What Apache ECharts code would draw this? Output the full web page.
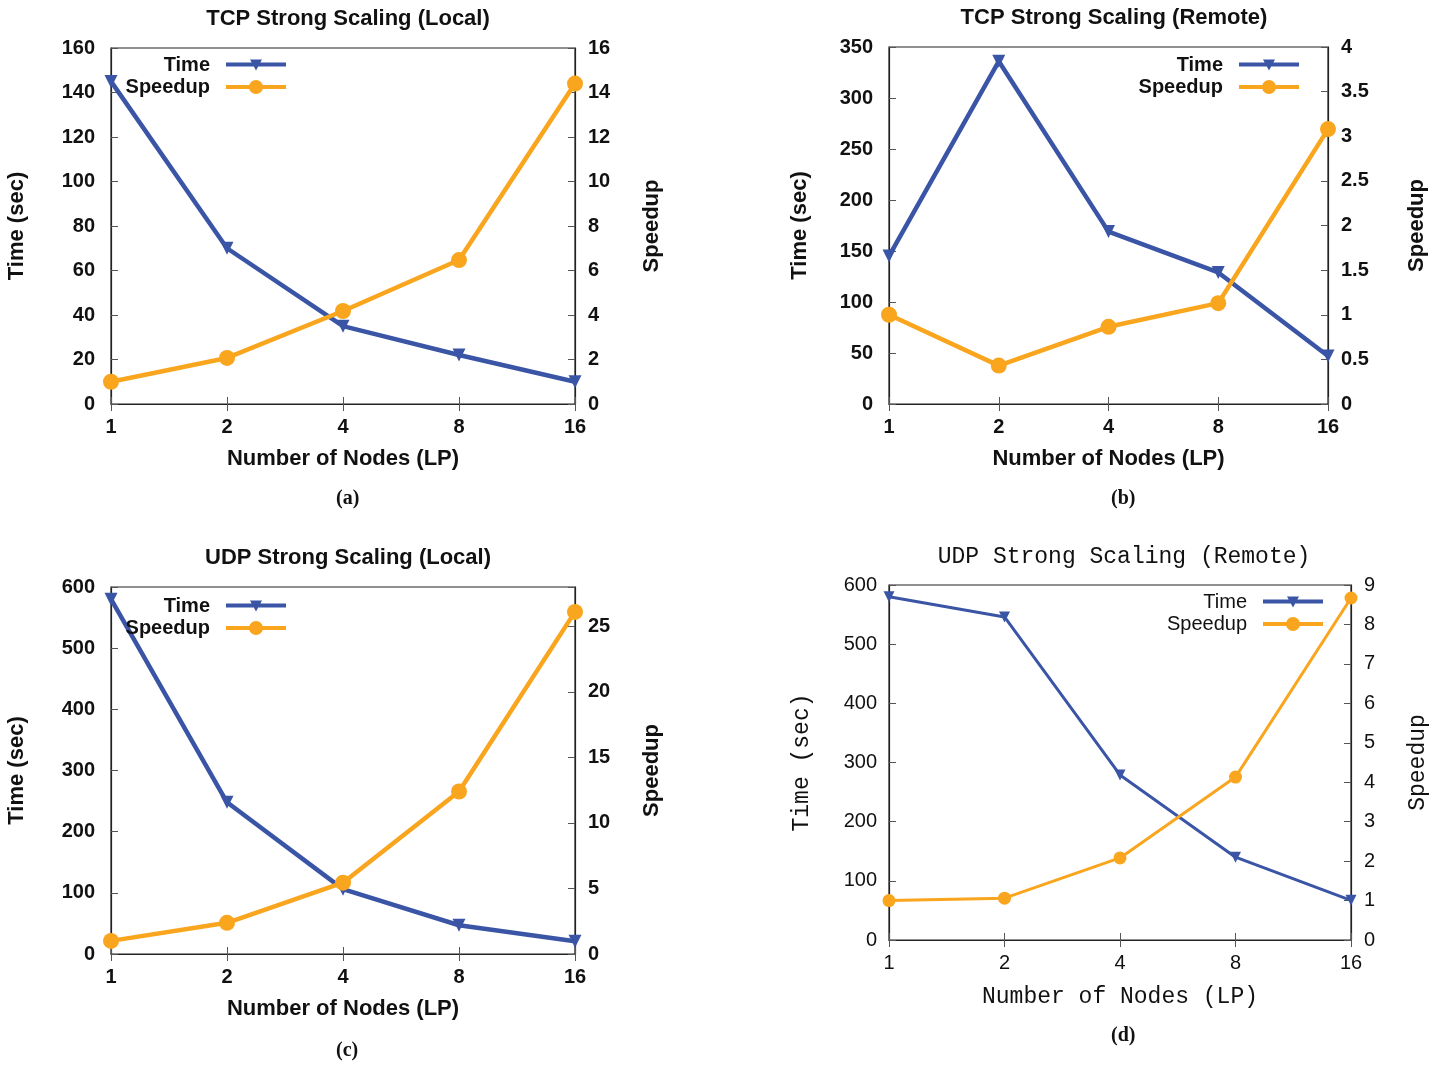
<!DOCTYPE html>
<html>
<head>
<meta charset="utf-8">
<script src="https://cdn.jsdelivr.net/npm/echarts@6/dist/echarts.min.js"></script>
<style>
  html, body { margin: 0; padding: 0; background: #fff; }
  #main { width: 1448px; height: 1066px; }
</style>
</head>
<body>
<div id="main"></div>
<script>
// node counts on the x axis
var nodes = ['1', '2', '4', '8', '16'];

// (a) TCP local
var tcpLocalTime = [145, 70, 35, 22, 10];
var tcpLocalSpeedup = [1.0, 2.07, 4.18, 6.47, 14.4];
// (b) TCP remote
var tcpRemoteTime = [145, 336, 169, 129, 47];
var tcpRemoteSpeedup = [1.0, 0.43, 0.865, 1.13, 3.08];
// (c) UDP local
var udpLocalTime = [580, 248, 106, 47, 21];
var udpLocalSpeedup = [1.0, 2.38, 5.44, 12.4, 26.1];
// (d) UDP remote
var udpRemoteTime = [580, 546, 279, 140, 67];
var udpRemoteSpeedup = [1.0, 1.06, 2.08, 4.13, 8.67];

var titles = ['TCP Strong Scaling (Local)', 'TCP Strong Scaling (Remote)',
              'UDP Strong Scaling (Local)', 'UDP Strong Scaling (Remote)'];
var captions = ['(a)', '(b)', '(c)', '(d)'];

var BLUE = '#3a55a5';
var ORANGE = '#f9a51e';
var SANS = '"Liberation Sans", Arial, sans-serif';
var MONO = '"Liberation Mono", "DejaVu Sans Mono", monospace';

// panel layout
var panels = [
  {left: 111, top: 48, width: 464, height: 356, tMax: 160, tInt: 20, sMax: 16, sInt: 2,
   time: tcpLocalTime, speed: tcpLocalSpeedup, legendRight: 1157, legendTop: 49,
   yGapL: 83, yGapR: 66, caption: [352, 500], titleX: 343, gnu: true},
  {left: 889, top: 47, width: 439, height: 357, tMax: 350, tInt: 50, sMax: 4, sInt: 0.5,
   time: tcpRemoteTime, speed: tcpRemoteSpeedup, legendRight: 144, legendTop: 49,
   yGapL: 78, yGapR: 78, caption: [1127, 500], titleX: 1109, gnu: true},
  {left: 111, top: 587, width: 464, height: 367, tMax: 600, tInt: 100, sMax: 28, sInt: 5,
   time: udpLocalTime, speed: udpLocalSpeedup, legendRight: 1157, legendTop: 590,
   yGapL: 83, yGapR: 66, caption: [352, 1052], titleX: 343, gnu: true},
  {left: 889, top: 585, width: 462, height: 355, tMax: 600, tInt: 100, sMax: 9, sInt: 1,
   time: udpRemoteTime, speed: udpRemoteSpeedup, legendRight: 120, legendTop: 586,
   yGapL: 76, yGapR: 55, caption: [1127, 1037], titleX: 1119, gnu: false}
];

var option = {
  animation: false,
  backgroundColor: '#fff',
  title: [], grid: [], xAxis: [], yAxis: [], series: [], legend: [], graphic: []
};

panels.forEach(function (p, i) {
  var bold = p.gnu ? 'bold' : 'normal';
  var nameFont = p.gnu ? SANS : MONO;
  var nameSize = p.gnu ? 22 : 23;
  var lw = p.gnu ? 4.5 : 3;
  var nameStyle = {fontFamily: nameFont, fontSize: nameSize, fontWeight: bold, color: '#111'};

  option.title.push({
    text: titles[i],
    left: p.titleX, top: p.top - 45,
    textAlign: 'center',
    textStyle: nameStyle
  });
  option.grid.push({
    left: p.left, top: p.top, width: p.width, height: p.height,
    show: true, borderColor: '#222', borderWidth: 1.2, backgroundColor: 'transparent'
  });

  option.xAxis.push({
    type: 'category', gridIndex: i, data: nodes, boundaryGap: false,
    name: 'Number of Nodes (LP)', nameLocation: 'middle', nameGap: p.gnu ? 44 : 45,
    nameTextStyle: nameStyle,
    axisLine: {lineStyle: {color: '#222', width: 1.2}},
    axisTick: {inside: true, length: 7, lineStyle: {color: '#555'}},
    axisLabel: {fontFamily: SANS, fontSize: 20, fontWeight: bold, color: '#111', margin: 13},
    splitLine: {show: false}
  });
  // mirrored ticks on top
  option.xAxis.push({
    type: 'category', gridIndex: i, data: nodes, boundaryGap: false, position: 'top',
    axisLine: {show: false},
    axisTick: {inside: true, length: 7, lineStyle: {color: '#555'}},
    axisLabel: {show: false}, splitLine: {show: false}
  });

  option.yAxis.push({
    type: 'value', gridIndex: i, min: 0, max: p.tMax, interval: p.tInt,
    name: 'Time (sec)', nameLocation: 'middle', nameRotate: 90, nameGap: p.yGapL,
    nameTextStyle: nameStyle,
    axisLine: {show: true, lineStyle: {color: '#222', width: 1.2}},
    axisTick: {show: true, inside: true, length: 7, lineStyle: {color: '#555'}},
    axisLabel: {fontFamily: SANS, fontSize: 20, fontWeight: bold, color: '#111', margin: p.gnu ? 16 : 12},
    splitLine: {show: false}
  });
  var sInt = p.sInt;
  option.yAxis.push({
    type: 'value', gridIndex: i, min: 0, max: p.sMax, interval: sInt, position: 'right',
    name: 'Speedup', nameLocation: 'middle', nameRotate: 90, nameGap: p.yGapR,
    nameTextStyle: nameStyle,
    axisLine: {show: true, lineStyle: {color: '#222', width: 1.2}},
    axisTick: {show: true, inside: true, length: 7, lineStyle: {color: '#555'}},
    axisLabel: {fontFamily: SANS, fontSize: 20, fontWeight: bold, color: '#111', margin: 13,
      formatter: function (v) {
        var k = v / sInt;
        return Math.abs(k - Math.round(k)) < 1e-6 ? String(v) : '';
      }},
    splitLine: {show: false}
  });

  option.series.push({
    name: 'Time', type: 'line', xAxisIndex: i * 2, yAxisIndex: i * 2,
    data: p.time, symbol: 'triangle', symbolRotate: 180, symbolSize: p.gnu ? 13 : 11,
    itemStyle: {color: BLUE}, lineStyle: {color: BLUE, width: lw}, z: 3
  });
  option.series.push({
    name: 'Speedup', type: 'line', xAxisIndex: i * 2, yAxisIndex: i * 2 + 1,
    data: p.speed, symbol: 'circle', symbolSize: p.gnu ? 16 : 13,
    itemStyle: {color: ORANGE}, lineStyle: {color: ORANGE, width: lw}, z: 4
  });

  option.legend.push({
    data: [
      {name: 'Time', icon: 'path://M0,6 L60,6 L60,10 L0,10 Z M24,3 L36,3 L30,14 Z'},
      {name: 'Speedup', icon: 'path://M0,6 L60,6 L60,10 L0,10 Z M30,1 A7,7 0 1 1 29.99,1 Z'}
    ],
    orient: 'vertical', align: 'right',
    right: p.legendRight, top: p.legendTop,
    itemWidth: 60, itemHeight: 15, itemGap: 0,
    selectedMode: false,
    textStyle: {fontFamily: SANS, fontSize: 20, fontWeight: bold, color: '#111',
                lineHeight: 22, padding: [0, 11, 0, 0]},
    seriesIndex: [i * 2, i * 2 + 1]
  });

  option.graphic.push({
    type: 'text', left: p.caption[0] - 16, top: p.caption[1] - 11,
    style: {text: captions[i], font: 'bold 20px "Liberation Serif", "DejaVu Serif", serif', fill: '#111'}
  });
});

var chart = echarts.init(document.getElementById('main'));
chart.setOption(option);
</script>
</body>
</html>
